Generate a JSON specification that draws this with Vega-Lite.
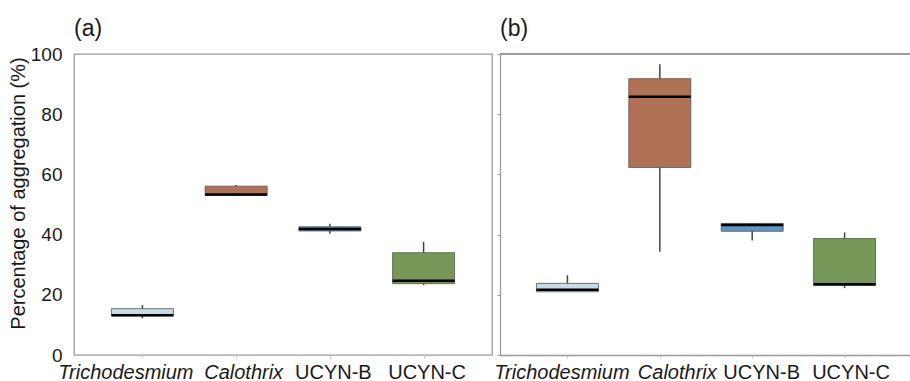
{
  "$schema": "https://vega.github.io/schema/vega-lite/v6.json",
  "padding": {"left": 7, "top": 17, "right": 0, "bottom": 0},
  "spacing": 0,
  "background": "white",
  "config": {
    "font": "Liberation Sans",
    "axis": {"labelFont": "Liberation Sans", "titleFont": "Liberation Sans", "labelColor": "#1a1a1a", "titleColor": "#1a1a1a", "grid": false},
    "title": {"font": "Liberation Sans", "fontSize": 23, "fontWeight": "normal", "anchor": "start", "frame": "group", "color": "#1a1a1a"}
  },
  "datasets": {
    "a": [
      {"cat": "Trichodesmium", "min": 12.2, "q1": 13.0, "median": 13.2, "q3": 15.4, "max": 16.6},
      {"cat": "Calothrix", "min": 53.0, "q1": 53.0, "median": 53.3, "q3": 56.1, "max": 56.5},
      {"cat": "UCYN-B", "min": 40.3, "q1": 41.2, "median": 41.9, "q3": 42.6, "max": 43.6},
      {"cat": "UCYN-C", "min": 23.2, "q1": 23.7, "median": 24.7, "q3": 34.0, "max": 37.6}
    ],
    "b": [
      {"cat": "Trichodesmium", "min": 21.0, "q1": 21.0, "median": 21.7, "q3": 23.8, "max": 26.5},
      {"cat": "Calothrix", "min": 34.3, "q1": 62.3, "median": 85.8, "q3": 91.8, "max": 96.6},
      {"cat": "UCYN-B", "min": 38.0, "q1": 41.1, "median": 43.2, "q3": 43.7, "max": 43.7},
      {"cat": "UCYN-C", "min": 22.2, "q1": 23.1, "median": 23.5, "q3": 38.7, "max": 40.7}
    ]
  },
  "hconcat": [
    {
      "title": {"text": "(a)", "offset": 4},
      "width": 418,
      "height": 301,
      "data": {"name": "a"},
      "view": {"stroke": "#9a9a9a", "strokeWidth": 1.3},
      "layer": [
        {
          "mark": {"type": "rule", "color": "#444444", "strokeWidth": 1.5},
          "encoding": {
            "x": {
              "field": "cat", "type": "nominal", "sort": null,
              "scale": {"type": "point", "padding": 0.73},
              "axis": {
                "title": null, "labelAngle": 0, "labelFontSize": 20, "labelPadding": 4,
                "tickSize": 3, "tickColor": "#c8c8c8", "domain": false,
                "labelOffset": {"condition": [
                  {"test": "datum.value == 'Trichodesmium'", "value": -17},
                  {"test": "datum.value == 'Calothrix'", "value": 7}
                ], "value": 3},
                "labelFontStyle": {"condition": {"test": "datum.value == 'Trichodesmium' || datum.value == 'Calothrix'", "value": "italic"}, "value": "normal"}
              }
            },
            "y": {"field": "min", "type": "quantitative", "scale": {"domain": [0, 100], "nice": false},
              "axis": {"title": "Percentage of aggregation (%)", "titleFontSize": 20, "titleFontWeight": "normal", "titlePadding": 2, "titleY": 139,
                "values": [0, 20, 40, 60, 80, 100], "labelFontSize": 19, "labelPadding": 12, "ticks": false, "domain": false}},
            "y2": {"field": "max"}
          }
        },
        {
          "mark": {"type": "bar", "size": 62, "stroke": "#555555", "strokeWidth": 0.8},
          "encoding": {
            "x": {"field": "cat", "type": "nominal", "sort": null},
            "y": {"field": "q1", "type": "quantitative"},
            "y2": {"field": "q3"},
            "fill": {"field": "cat", "type": "nominal", "sort": null, "legend": null,
              "scale": {"domain": ["Trichodesmium", "Calothrix", "UCYN-B", "UCYN-C"], "range": ["#c6dbea", "#b07256", "#5b98c6", "#76995a"]}}
          }
        },
        {
          "mark": {"type": "tick", "size": 62, "thickness": 2.5, "color": "#000000", "opacity": 1},
          "encoding": {
            "x": {"field": "cat", "type": "nominal", "sort": null},
            "y": {"field": "median", "type": "quantitative"}
          }
        }
      ]
    },
    {
      "title": {"text": "(b)", "offset": 12},
      "width": 412,
      "height": 301,
      "data": {"name": "b"},
      "view": {"stroke": null},
      "layer": [
        {
          "mark": {"type": "rule", "color": "#9a9a9a", "strokeWidth": 1.3},
          "encoding": {"y": {"datum": 100}}
        },
        {
          "mark": {"type": "rule", "color": "#444444", "strokeWidth": 1.5},
          "encoding": {
            "x": {
              "field": "cat", "type": "nominal", "sort": null,
              "scale": {"type": "point", "padding": 0.73},
              "axis": {
                "title": null, "labelAngle": 0, "labelFontSize": 20, "labelPadding": 4,
                "tickSize": 3, "tickColor": "#c8c8c8", "domainColor": "#9a9a9a", "domainWidth": 1.3,
                "labelOffset": {"condition": [
                  {"test": "datum.value == 'Trichodesmium'", "value": -6},
                  {"test": "datum.value == 'Calothrix'", "value": 17},
                  {"test": "datum.value == 'UCYN-B'", "value": 9}
                ], "value": 6},
                "labelFontStyle": {"condition": {"test": "datum.value == 'Trichodesmium' || datum.value == 'Calothrix'", "value": "italic"}, "value": "normal"}
              }
            },
            "y": {"field": "min", "type": "quantitative", "scale": {"domain": [0, 100], "nice": false},
              "axis": {"title": null, "labels": false, "values": [0, 20, 40, 60, 80, 100], "tickSize": 3, "tickColor": "#9a9a9a", "domainColor": "#9a9a9a", "domainWidth": 1.3}},
            "y2": {"field": "max"}
          }
        },
        {
          "mark": {"type": "bar", "size": 62, "stroke": "#555555", "strokeWidth": 0.8},
          "encoding": {
            "x": {"field": "cat", "type": "nominal", "sort": null},
            "y": {"field": "q1", "type": "quantitative"},
            "y2": {"field": "q3"},
            "fill": {"field": "cat", "type": "nominal", "sort": null, "legend": null,
              "scale": {"domain": ["Trichodesmium", "Calothrix", "UCYN-B", "UCYN-C"], "range": ["#c6dbea", "#b07256", "#5b98c6", "#76995a"]}}
          }
        },
        {
          "mark": {"type": "tick", "size": 62, "thickness": 2.5, "color": "#000000", "opacity": 1},
          "encoding": {
            "x": {"field": "cat", "type": "nominal", "sort": null},
            "y": {"field": "median", "type": "quantitative"}
          }
        }
      ]
    }
  ]
}
